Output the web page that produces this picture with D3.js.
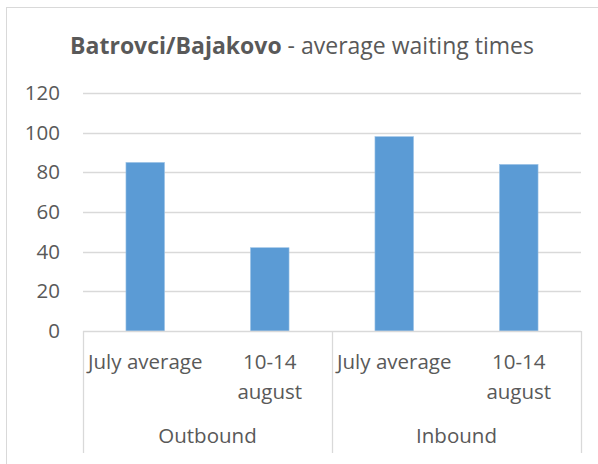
<!DOCTYPE html>
<html>
<head>
<meta charset="utf-8">
<script src="https://cdn.jsdelivr.net/npm/d3@7"></script>
<style>
  html, body { margin: 0; padding: 0; background: #fff; }
  svg { display: block; }
  text { font-family: "Open Sans", "Noto Sans", sans-serif; fill: #595959; }
</style>
</head>
<body>
<script>
const groups = ["Outbound", "Inbound"];
const subCategories = ["July average", "10-14 august"];
const categories = ["Outbound|July average", "Outbound|10-14 august", "Inbound|July average", "Inbound|10-14 august"];
const values = [85, 42, 98, 84];
const yTicks = [0, 20, 40, 60, 80, 100, 120];

(function () {
const W = 598, H = 464;
const pLeft = 83, pRight = 581, pTop = 93, pBottom = 331;
const FS = 20.5;

const svg = d3.select("body").append("svg").attr("width", W).attr("height", H);

// outer chart border
svg.append("rect").attr("x", 6.5).attr("y", 7.5).attr("width", 620).attr("height", 500)
  .attr("fill", "none").attr("stroke", "#D9D9D9").attr("stroke-width", 1);

const x = d3.scaleBand().domain(categories).range([pLeft, pRight]).paddingInner(0.69).paddingOuter(0.345);
const y = d3.scaleLinear().domain([0, 120]).range([pBottom, pTop]);

// gridlines
svg.append("g").selectAll("line").data(yTicks.filter(d => d > 0)).join("line")
  .attr("x1", pLeft).attr("x2", pRight)
  .attr("y1", d => Math.round(y(d)) + 0.5).attr("y2", d => Math.round(y(d)) + 0.5)
  .attr("stroke", "#D9D9D9").attr("stroke-width", 1.3);

// y axis labels
const yAxis = d3.axisLeft(y).tickValues(yTicks).tickSize(0).tickPadding(0);
const yg = svg.append("g").attr("transform", `translate(60,0)`).call(yAxis);
yg.select(".domain").remove();
yg.selectAll("text").attr("font-size", FS).attr("font-family", "Open Sans").attr("fill", "#595959").attr("x", 0);

// bars
svg.append("g").selectAll("rect").data(values).join("rect")
  .attr("x", (d, i) => x(categories[i]))
  .attr("width", x.bandwidth())
  .attr("y", d => y(d))
  .attr("height", d => y(0) - y(d))
  .attr("fill", "#5B9BD5")
  .attr("stroke", "#9DC3E6").attr("stroke-width", 0.6);

// category axis line
svg.append("line").attr("x1", pLeft).attr("x2", pRight).attr("y1", pBottom + 0.5).attr("y2", pBottom + 0.5)
  .attr("stroke", "#D9D9D9").attr("stroke-width", 1.3);

// group separators
const groupScale = d3.scaleBand().domain(groups).range([pLeft, pRight]);
const seps = [pLeft, ...groups.map(g => groupScale(g) + groupScale.bandwidth())];
svg.append("g").selectAll("line").data(seps).join("line")
  .attr("x1", d => Math.round(d) + 0.5).attr("x2", d => Math.round(d) + 0.5)
  .attr("y1", pBottom).attr("y2", 453)
  .attr("stroke", "#D9D9D9").attr("stroke-width", 1.3);

// subcategory labels
const catG = svg.append("g");
categories.forEach(c => {
  const sub = c.split("|")[1];
  const cx = x(c) + x.bandwidth() / 2;
  const lines = sub === "July average" ? ["July average"] : ["10-14", "august"];
  lines.forEach((ln, j) => {
    catG.append("text").attr("x", cx).attr("y", 369 + j * 30)
      .attr("text-anchor", "middle").attr("font-size", FS).text(ln);
  });
});

// group labels
svg.append("g").selectAll("text").data(groups).join("text")
  .attr("x", d => groupScale(d) + groupScale.bandwidth() / 2)
  .attr("y", 443)
  .attr("text-anchor", "middle").attr("font-size", FS).text(d => d);

// title
const t = svg.append("text").attr("x", 302).attr("y", 54).attr("text-anchor", "middle").attr("font-size", 23);
t.append("tspan").attr("font-weight", "bold").text("Batrovci/Bajakovo");
t.append("tspan").text(" - average waiting times");
})();
</script>
</body>
</html>
